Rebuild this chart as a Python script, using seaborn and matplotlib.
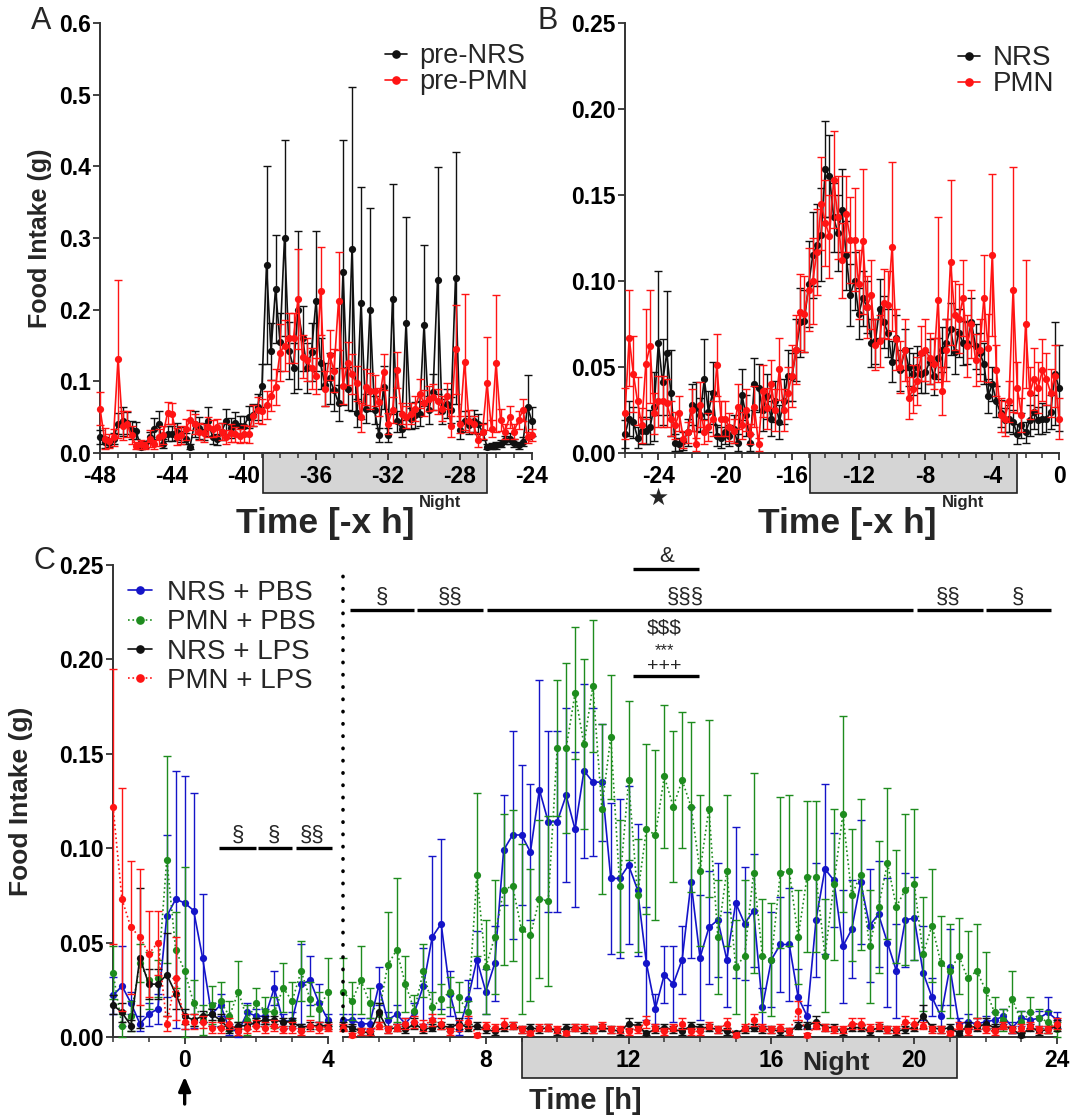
import numpy as np
import pandas as pd
import matplotlib
matplotlib.use("Agg")
import matplotlib.pyplot as plt
import seaborn as sns
from matplotlib.patches import Rectangle
from matplotlib.lines import Line2D
from matplotlib.ticker import FixedLocator
import matplotlib.transforms as mtrans

sns.set_theme(style="ticks")
plt.rcParams['font.family'] = ['Liberation Sans', 'DejaVu Sans']

# ---------------- DATA (food intake in mg, 15-min bins) ----------------
# Panel A: -48 h .. -24 h
A_start = -48.0
A_preNRS = [22,15,14,20,41,44,42,32,31,9,
            12,22,34,41,13,27,27,30,26,20,
            9,41,35,30,44,23,19,30,44,35,
            42,38,38,50,53,64,94,262,142,229,
            155,300,143,119,200,160,119,141,212,125,
            95,104,88,70,252,90,285,56,209,62,
            200,60,25,92,25,215,44,34,181,48,
            53,55,178,60,85,241,58,69,60,244,
            32,44,39,45,40,30,9,10,11,13,
            18,20,14,11,16,64,44]
A_preNRS_err = [10,8,6,8,15,20,15,12,12,4,
                5,8,15,18,6,10,10,12,10,8,
                4,18,15,12,20,10,8,12,18,14,
                15,14,14,15,16,18,30,138,40,75,
                40,137,40,35,110,45,35,40,98,35,
                30,35,30,25,185,30,226,20,162,20,
                142,20,10,30,10,160,15,12,148,15,
                18,18,112,20,25,158,18,20,18,176,
                12,15,12,15,14,12,4,4,5,5,
                6,8,6,5,6,45,20]
A_prePMN = [62,20,17,22,131,38,40,25,10,12,
            10,20,12,22,25,56,55,23,25,33,
            46,40,30,28,36,34,36,30,22,28,
            26,24,27,26,52,60,58,67,80,92,
            140,150,160,160,215,134,130,118,108,226,
            90,137,115,212,94,125,110,97,50,92,
            87,87,71,113,41,60,116,55,50,55,
            62,83,70,76,78,72,62,80,37,145,
            40,127,45,40,18,30,97,34,125,46,
            30,50,30,46,60,22,25]
A_prePMN_err = [23,15,10,12,110,20,18,12,5,6,
                5,12,6,12,12,15,15,12,12,15,
                14,14,12,12,14,12,12,12,10,12,
                10,10,12,12,15,18,18,20,22,25,
                40,35,35,35,70,30,30,28,25,62,
                25,35,30,68,25,30,28,25,20,25,
                25,22,20,25,15,18,25,15,15,15,
                18,20,18,18,18,18,18,18,15,62,
                12,95,15,12,10,10,65,12,95,15,
                10,15,10,12,15,8,8]

# Panel B: -26 h .. 0 h
B_start = -26.0
B_NRS = [11,20,18,9,13,13,15,27,64,41,
         58,35,6,5,7,12,28,27,22,43,
         24,35,10,9,12,10,14,6,34,22,
         6,40,38,25,33,20,30,18,30,45,
         44,60,76,77,98,115,121,127,165,161,
         137,128,141,115,92,100,81,90,85,64,
         65,84,76,70,53,67,48,60,50,46,
         50,46,47,53,45,55,60,64,72,59,
         70,64,64,76,62,58,52,33,40,30,
         23,19,20,18,11,16,12,19,24,19,
         20,20,24,46,38]
B_NRS_err = [8,10,9,6,8,8,10,20,42,25,
             36,25,5,4,5,8,12,14,10,23,
             12,18,6,6,7,6,8,5,15,12,
             5,15,14,12,13,10,12,10,13,15,
             14,18,20,18,25,25,24,27,28,24,
             20,22,24,20,18,17,15,16,15,14,
             13,17,15,14,12,13,12,12,11,12,
             12,11,12,13,11,12,13,14,15,13,
             14,13,12,14,13,12,12,10,10,9,
             8,7,8,7,6,7,6,9,10,8,
             9,8,10,30,25]
B_PMN = [23,67,46,30,16,52,62,23,30,30,
         29,20,16,23,8,12,25,5,28,12,
         15,20,51,20,20,15,13,27,16,25,
         11,27,5,36,26,40,25,49,25,35,
         45,60,82,81,95,100,117,145,134,126,
         159,137,112,139,124,124,98,123,85,92,
         63,65,87,86,120,66,50,60,32,37,
         42,58,60,55,52,89,36,60,111,80,
         78,90,62,75,54,60,90,61,115,48,
         22,20,30,95,38,22,75,35,43,38,
         48,43,35,45,20]
B_PMN_err = [15,28,22,14,10,32,33,12,15,15,
             14,10,8,10,5,6,12,4,13,7,
             8,10,18,10,10,8,7,13,8,12,
             6,12,4,15,12,14,12,18,12,15,
             18,20,22,22,24,25,25,27,25,24,
             28,24,22,22,25,30,20,42,18,20,
             15,15,20,20,49,18,15,18,12,14,
             14,16,18,15,15,48,14,18,48,20,
             20,22,18,20,15,18,25,20,47,15,
             10,10,12,71,15,10,37,15,18,15,
             18,15,14,18,12]

# Panel C: -2 h .. 24 h  (first 24 values: -2..3.75 h, then 4..24 h)
C_start = -2.0
C_NRS_PBS = [22,27,18,7,12,15,64,73,71,67,42,12,17,4,3,13,11,11,26,8,9,28,30,18,
             9,9,7,7, 27,9,12,7, 13,27,53,60, 23,4,20,41, 24,39,99,107, 107,98,131,114,
             114,128,110,141, 135,135,84,84, 91,78,39,15, 33,28,41,82, 42,58,62,41,
             71,60,67,16, 41,49,49,21, 11,62,89,83, 48,57,82,59, 65,50,35,62,
             63,34,21,11, 37,7,8,7, 8,9,11,5, 10,9,10,13, 9]
C_NRS_PBS_err = [10,21,6,4,6,8,43,68,67,62,34,6,6,3,3,5,4,4,9,4,4,21,13,10,
                 3,3,3,3, 10,4,5,3, 5,20,43,45, 12,3,10,15, 12,20,29,55, 37,36,58,48,
                 48,46,41,46, 39,31,40,42, 42,35,30,8, 15,20,18,40, 33,30,30,25,
                 40,30,30,10, 25,25,30,15, 6,30,45,25, 30,26,33,30, 28,34,25,25,
                 22,25,10,6, 20,3,4,3, 3,4,4,3, 4,4,4,8, 4]
C_PMN_PBS = [34,6,11,39,30,31,94,46,35,18,9,17,19,11,24,9,18,14,13,26,19,35,20,15,
             24,19,30,18, 12,38,46,28, 14,35,16,20, 24,21,13,86, 37,53,78,80, 57,54,73,72,
             153,153,182,155, 186,121,159,80, 136,75,110,107, 138,122,136,122, 88,121,53,88,
             37,43,87,43, 41,87,88,53, 85,85,43,81, 118,75,86,48, 69,92,69,78,
             81,44,59,39, 35,43,31,35, 25,13,9,20, 8,13,10,8, 4]
C_PMN_PBS_err = [14,6,8,10,15,10,55,20,55,12,8,10,10,8,16,8,8,7,8,13,10,16,9,9,
                 18,10,18,8, 6,28,38,15, 8,14,8,8, 8,8,6,43, 25,30,40,40, 45,35,42,45,
                 36,45,35,45, 35,45,33,35, 42,30,45,45, 38,40,36,45, 40,47,30,40,
                 25,40,53,30, 30,40,40,25, 40,40,30,40, 52,35,40,30, 35,40,30,40,
                 40,30,30,25, 25,20,25,25, 20,8,6,15, 6,8,5,6, 4]
C_NRS_LPS = [17,13,6,42,28,28,33,23,11,9,11,12,9,4,6,6,8,9,9,8,8,5,6,6,
             6,5,3,2, 13,4,5,4, 7,4,5,6, 5,7,5,6, 4,3,5,6, 4,5,4,5,
             3,5,5,4, 4,5,4,3, 7,6,2,4, 5,4,3,6, 5,5,4,3,
             2,4,5,4, 4,3,3,6, 6,8,5,5, 3,5,5,3, 5,4,3,4,
             5,11,5,4, 5,2,6,5, 7,5,6,4, 1,5,3,4, 6]
C_NRS_LPS_err = [5,5,3,37,8,8,22,8,4,3,3,3,3,2,2,2,2,2,2,2,2,2,2,2,
                 2,2,2,1, 5,2,2,2, 3,2,2,2, 2,3,2,2, 2,2,2,2, 2,2,2,2,
                 2,2,2,2, 2,2,2,2, 3,2,1,2, 2,2,2,2, 2,2,2,2,
                 1,2,2,2, 2,2,2,2, 2,3,2,2, 2,2,2,2, 2,2,2,2,
                 2,6,2,2, 2,1,2,2, 3,2,2,2, 1,2,2,2, 3]
C_PMN_LPS = [122,73,58,53,44,50,7,31,8,8,8,5,5,7,3,5,6,5,6,4,5,3,6,5,
             5,1,3,3, 6,4,5,7, 8,6,9,7, 3,6,8,1, 6,5,7,6, 4,2,5,5,
             4,2,5,5, 4,6,4,4, 3,4,8,5, 3,5,7,3, 3,6,4,7,
             1,5,9,5, 4,5,3,14, 1,6,5,4, 4,7,7,5, 6,4,4,8,
             7,6,4,4, 2,6,3,7, 4,3,6,4, 5,6,4,4, 7]
C_PMN_LPS_err = [73,59,35,36,23,17,4,22,4,4,3,3,3,3,2,3,3,3,3,2,3,2,3,3,
                 2,1,2,2, 2,2,2,3, 3,3,3,3, 2,3,3,1, 2,2,3,2, 2,1,2,2,
                 2,1,2,2, 2,2,2,2, 2,2,3,2, 2,2,3,2, 2,2,2,3,
                 1,2,3,2, 2,2,2,5, 1,2,2,2, 2,3,3,2, 2,2,2,3,
                 3,2,2,2, 1,2,2,3, 2,2,2,2, 2,2,2,2, 3]

# ---------------- STYLE ----------------
RED = '#FF1414'
BLUE = '#1414C8'
GREEN = '#1E8C1E'
BLK = '#111111'
SPINE = '#333333'

W, H = 1071, 1116
fig = plt.figure(figsize=(W / 100, H / 100), dpi=100)


def box(l, t, r, b):
    return [l / W, 1 - b / H, (r - l) / W, (b - t) / H]


def series(start, vals, errs):
    n = min(len(vals), len(errs))
    t = start + 0.25 * np.arange(n)
    v = np.asarray(vals[:n], float) / 1000.0
    e = np.asarray(errs[:n], float) / 1000.0
    return t, v, e


def draw(ax, t, v, e, color, ls, z):
    df = pd.DataFrame({'t': t, 'v': v})
    sns.lineplot(data=df, x='t', y='v', ax=ax, color=color, linestyle=ls,
                 linewidth=1.2, marker='o', markersize=5.2, markeredgewidth=0,
                 estimator=None, sort=False, zorder=z, legend=False)
    ax.lines[-1].set_clip_on(False)
    lo = np.minimum(e, v)
    cont = ax.errorbar(t, v, yerr=[lo, e], fmt='none', ecolor=color,
                       elinewidth=1.0, capsize=3, capthick=1.0, zorder=z - 0.1)
    for art in cont.get_children():
        art.set_clip_on(False)


def style(ax, left=True):
    sns.despine(ax=ax)
    for s in ['left', 'bottom']:
        ax.spines[s].set_linewidth(1.4)
        ax.spines[s].set_color(SPINE)
    if not left:
        ax.spines['left'].set_visible(False)
    ax.tick_params(axis='both', which='major', direction='out', length=5,
                   width=1.3, color=SPINE, labelsize=16.5, pad=1.5,
                   labelcolor='black')
    ax.tick_params(axis='x', which='major', pad=3.5)
    ax.tick_params(axis='both', which='minor', direction='out', length=3.5,
                   width=1.1, color=SPINE)
    for lab in ax.get_xticklabels() + ax.get_yticklabels():
        lab.set_fontweight('bold')


def night(ax, x0, x1, frac):
    tr = mtrans.blended_transform_factory(ax.transData, ax.transAxes)
    ax.add_patch(Rectangle((x0, -frac), x1 - x0, frac, transform=tr,
                           facecolor='#d5d5d5', edgecolor='#222222',
                           linewidth=1.2, clip_on=False, zorder=0.2))


# ---------------- PANEL A ----------------
axA = fig.add_axes(box(100, 23, 532, 453))
t, v, e = series(A_start, A_preNRS, A_preNRS_err)
draw(axA, t, v, e, BLK, '-', 3)
t, v, e = series(A_start, A_prePMN, A_prePMN_err)
draw(axA, t, v, e, RED, '-', 4)
axA.set_xlim(-48, -24)
axA.set_ylim(0, 0.6)
axA.set_xticks(np.arange(-48, -23, 4))
axA.set_xticklabels([str(x) for x in range(-48, -23, 4)])
axA.xaxis.set_minor_locator(FixedLocator(np.arange(-48, -23, 1)))
axA.set_yticks(np.arange(0, 0.61, 0.1))
axA.set_yticklabels(['%.1f' % y for y in np.arange(0, 0.61, 0.1)])
style(axA)
night(axA, -38.95, -26.5, 40 / 430)
axA.set_xlabel('Time [-x h]', fontsize=25.5, fontweight='bold')
axA.xaxis.set_label_coords(0.522, -0.125)
axA.set_ylabel('Food Intake (g)', fontsize=18, fontweight='bold')
axA.yaxis.set_label_coords(-0.112, 0.5)
hA = [Line2D([0], [0], color=BLK, marker='o', ms=5.2, lw=1.2),
      Line2D([0], [0], color=RED, marker='o', ms=5.2, lw=1.2)]
axA.legend(hA, ['pre-NRS', 'pre-PMN'], loc='upper left',
           bbox_to_anchor=(0.66, 0.953), frameon=False, fontsize=19.5,
           handlelength=0.8, handletextpad=0.45, labelspacing=0.0,
           borderpad=0, borderaxespad=0)

# ---------------- PANEL B ----------------
axB = fig.add_axes(box(625, 23, 1059, 453))
t, v, e = series(B_start, B_NRS, B_NRS_err)
draw(axB, t, v, e, BLK, '-', 3)
t, v, e = series(B_start, B_PMN, B_PMN_err)
draw(axB, t, v, e, RED, '-', 4)
axB.set_xlim(-26, 0)
axB.set_ylim(0, 0.25)
axB.set_xticks(np.arange(-24, 1, 4))
axB.set_xticklabels([str(x) for x in range(-24, 1, 4)])
axB.xaxis.set_minor_locator(FixedLocator(np.arange(-26, 1, 1)))
axB.set_yticks(np.arange(0, 0.251, 0.05))
axB.set_yticklabels(['%.2f' % y for y in np.arange(0, 0.251, 0.05)])
style(axB)
night(axB, -14.9, -2.5, 40 / 430)
axB.set_xlabel('Time [-x h]', fontsize=25.5, fontweight='bold')
axB.xaxis.set_label_coords(0.512, -0.125)
axB.set_ylabel('')
hB = [Line2D([0], [0], color=BLK, marker='o', ms=5.2, lw=1.2),
      Line2D([0], [0], color=RED, marker='o', ms=5.2, lw=1.2)]
axB.legend(hB, ['NRS', 'PMN'], loc='upper left',
           bbox_to_anchor=(0.767, 0.948), frameon=False, fontsize=20,
           handlelength=0.8, handletextpad=0.45, labelspacing=0.0,
           borderpad=0, borderaxespad=0)

# ---------------- PANEL C ----------------
axCL = fig.add_axes(box(113, 565, 328, 1037))
axCR = fig.add_axes(box(343, 565, 1057, 1037))
C_series = [(C_NRS_PBS, C_NRS_PBS_err, BLUE, '-', 3),
            (C_PMN_PBS, C_PMN_PBS_err, GREEN, ':', 3.5),
            (C_NRS_LPS, C_NRS_LPS_err, BLK, '-', 4),
            (C_PMN_LPS, C_PMN_LPS_err, RED, ':', 4.5)]
for vals, errs, col, ls, z in C_series:
    t, v, e = series(C_start, vals, errs)
    mL = t <= 4.0 + 1e-9
    mR = t >= 4.0 - 1e-9
    draw(axCL, t[mL], v[mL], e[mL], col, ls, z)
    draw(axCR, t[mR], v[mR], e[mR], col, ls, z)

for ax in (axCL, axCR):
    ax.set_ylim(0, 0.25)
    ax.set_ylabel('')
    ax.set_xlabel('')
axCL.set_xlim(-2, 4)
axCR.set_xlim(4, 24)
axCL.set_xticks([0, 4])
axCL.set_xticklabels(['0', '4'])
axCL.xaxis.set_minor_locator(FixedLocator([-2, -1, 1, 2, 3]))
axCL.set_yticks(np.arange(0, 0.251, 0.05))
axCL.set_yticklabels(['%.2f' % y for y in np.arange(0, 0.251, 0.05)])
axCR.set_xticks([8, 12, 16, 20, 24])
axCR.set_xticklabels(['8', '12', '16', '20', '24'])
axCR.xaxis.set_minor_locator(FixedLocator([h for h in range(4, 25) if h % 4 != 0 or h == 4]))
axCR.set_yticks([])
style(axCL)
style(axCR, left=False)
axCR.tick_params(axis='y', which='both', left=False, labelleft=False)
night(axCR, 9.0, 21.2, 41 / 472)

# dotted separator line
axCR.plot([4, 4], [0.003, 0.25], color='black', lw=2.6,
          linestyle=(0, (0.1, 3.3)), dash_capstyle='round', clip_on=False, zorder=6)

axCL.set_ylabel('Food Intake (g)', fontsize=19, fontweight='bold')
axCL.yaxis.set_label_coords(-0.372, 0.5)
axCR.set_xlabel('Time [h]', fontsize=21, fontweight='bold')
axCR.xaxis.set_label_coords(0.339, -0.105)

hC = [Line2D([0], [0], color=BLUE, marker='o', ms=5.2, lw=1.2, ls='-'),
      Line2D([0], [0], color=GREEN, marker='o', ms=5.2, lw=1.2, ls=':'),
      Line2D([0], [0], color=BLK, marker='o', ms=5.2, lw=1.2, ls='-'),
      Line2D([0], [0], color=RED, marker='o', ms=5.2, lw=1.2, ls=':')]
axCL.legend(hC, ['NRS + PBS', 'PMN + PBS', 'NRS + LPS', 'PMN + LPS'],
            loc='upper left', bbox_to_anchor=(0.07, 0.968), frameon=False,
            fontsize=20, handlelength=0.85, handletextpad=0.55,
            labelspacing=0.12, borderpad=0, borderaxespad=0)


def sigbar(ax, x0, x1, y, label=None, xt=None, fs=16):
    ax.plot([x0, x1], [y, y], color='black', lw=2.4, clip_on=False,
            solid_capstyle='butt', zorder=7)
    if label:
        ax.text(xt if xt is not None else (x0 + x1) / 2, y + 0.0012, label,
                ha='center', va='bottom', fontsize=fs, clip_on=False, zorder=7)


# significance bars right panel
sigbar(axCR, 4.2, 6.0, 0.226, '§', 5.1)
sigbar(axCR, 6.07, 7.93, 0.226, '§§', 7.0)
sigbar(axCR, 8.03, 19.98, 0.226, '§§§', 13.58)
sigbar(axCR, 20.08, 21.94, 0.226, '§§', 20.96)
sigbar(axCR, 22.0, 23.83, 0.226, '§', 22.9)
sigbar(axCR, 12.12, 13.97, 0.248, '&', 13.06)
sigbar(axCR, 12.12, 13.97, 0.191)
axCR.text(13.0, 0.2165, '$$$', ha='center', va='center', fontsize=15, clip_on=False)
axCR.text(13.0, 0.2045, '***', ha='center', va='center', fontsize=12, clip_on=False)
axCR.text(13.0, 0.1965, '+++', ha='center', va='center', fontsize=14, clip_on=False)
# significance bars left panel
sigbar(axCL, 0.95, 2.0, 0.100, '§', 1.5)
sigbar(axCL, 2.04, 3.0, 0.100, '§', 2.5)
sigbar(axCL, 3.1, 4.1, 0.100, '§§', 3.55)

# arrow at injection time
trCL = axCL.get_xaxis_transform()
axCL.annotate('', xy=(0, -0.084), xycoords=trCL, xytext=(0, -0.142), textcoords=trCL,
              arrowprops=dict(arrowstyle='-|>,head_length=0.7,head_width=0.3',
                              color='black', lw=2.4, shrinkA=0, shrinkB=0),
              annotation_clip=False)

# texts
fig.text(41 / W, 1 - 21 / H, 'A', fontsize=22, ha='center', va='center')
fig.text(548 / W, 1 - 21 / H, 'B', fontsize=22, ha='center', va='center')
fig.text(44 / W, 1 - 561 / H, 'C', fontsize=22, ha='center', va='center')
fig.text(440 / W, 1 - 503 / H, 'Night', fontsize=12, fontweight='bold', ha='center', va='center')
fig.text(963 / W, 1 - 503 / H, 'Night', fontsize=12, fontweight='bold', ha='center', va='center')
fig.text(836 / W, 1 - 1063 / H, 'Night', fontsize=19, fontweight='bold', ha='center', va='center')
fig.text(658 / W, 1 - 498 / H, '\u2605', fontsize=17, ha='center', va='center',
         family=['DejaVu Sans'])

fig.savefig('out.png', dpi=100)
